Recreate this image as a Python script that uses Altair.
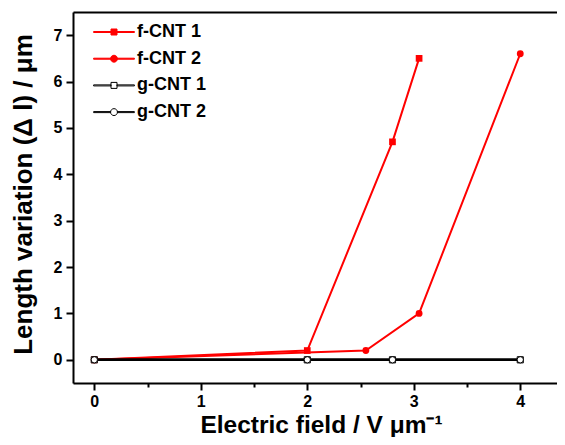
import altair as alt
import pandas as pd

# ---------------- data ----------------
series_names = ["f-CNT 1", "f-CNT 2", "g-CNT 1", "g-CNT 2"]
f1_x = [0, 2, 2.8, 3.05]
f1_y = [0, 0.2, 4.7, 6.5]
f2_x = [0, 2.55, 3.05, 4]
f2_y = [0, 0.2, 1.0, 6.6]
g1_x = [0, 2, 2.8, 4]
g1_y = [0, 0, 0, 0]
g2_x = [0, 2, 2.8, 4]
g2_y = [0, 0, 0, 0]
x_ticks = [0, 1, 2, 3, 4]
x_minor_ticks = [0.5, 1.5, 2.5, 3.5]
y_ticks = [0, 1, 2, 3, 4, 5, 6, 7]

# ---------------- styles ----------------
FONT = "Liberation Sans"
RED = "#ff0000"
BLACK = "#000000"
line_colors = [RED, RED, BLACK, BLACK]
line_widths = [2, 2, 2.5, 2.5]
marker_shapes = ["square", "circle", "square", "circle"]
marker_fill = [RED, RED, "white", "white"]
marker_stroke = [RED, RED, BLACK, BLACK]
marker_stroke_w = [0, 0, 1, 1]
marker_size = [45, 47, 38, 40]

# legend symbols: line stubs + marker (custom SVG paths, unit = sqrt(size)/2)
sq = "M-6.8,-0.17H-1V0.17H-6.8Z M1,-0.17H6.8V0.17H1Z M-1,-1H1V1H-1Z"
ci = ("M-6.8,-0.17H-1.15V0.17H-6.8Z M1.15,-0.17H6.8V0.17H1.15Z "
      "M1.15,0A1.15,1.15,0,1,1,-1.15,0A1.15,1.15,0,1,1,1.15,0Z")
legend_paths = [sq, ci, sq, ci]

rows = []
for name, xs, ys in zip(series_names, [f1_x, f2_x, g1_x, g2_x], [f1_y, f2_y, g1_y, g2_y]):
    for i, (xv, yv) in enumerate(zip(xs, ys)):
        rows.append({"series": name, "x": xv, "y": yv, "i": i})
df = pd.DataFrame(rows)

xscale = alt.Scale(domain=[-0.2, 4.345], nice=False, zero=False)
yscale = alt.Scale(domain=[-0.5, 7.5], nice=False, zero=False)

common = dict(domainColor=BLACK, domainWidth=2, tickColor=BLACK, tickWidth=2, grid=False,
              labelFont=FONT, labelFontWeight="bold", labelColor=BLACK,
              titleFont=FONT, titleFontWeight="bold", titleColor=BLACK)

x_main_axis = alt.Axis(values=x_ticks, format="d", labelFontSize=16, labelPadding=3, tickSize=7,
                       title="Electric field / V μm⁻¹", titleFontSize=24.5, titleX=248, titleY=49,
                       titleBaseline="alphabetic", titleAlign="center", **common)
x_top_axis = alt.Axis(orient="top", labels=False, ticks=False, domain=True, title=None,
                      domainColor=BLACK, domainWidth=2, grid=False)
x_minor_axis = alt.Axis(orient="bottom", values=x_minor_ticks, labels=False, domain=False,
                        tickSize=4, tickWidth=2, tickColor=BLACK, grid=False, title=None)
y_main_axis = alt.Axis(values=y_ticks, format="d", labelFontSize=16, labelPadding=4, tickSize=7,
                       title="Length variation (Δ l) / μm", titleFontSize=26, titleAngle=270,
                       titleX=-42, titleY=182, titleBaseline="alphabetic", titleAlign="center",
                       **common)

layers = []
x_axes = [x_main_axis, x_top_axis, x_minor_axis, None]
for k, name in enumerate(series_names):
    base = alt.Chart(df).transform_filter(alt.datum.series == name)
    line = base.mark_line(color=line_colors[k], strokeWidth=line_widths[k]).encode(
        x=alt.X("x:Q", scale=xscale, axis=x_axes[k]),
        y=alt.Y("y:Q", scale=yscale, axis=y_main_axis if k == 0 else None),
        order="i:Q",
    )
    pts = base.mark_point(shape=marker_shapes[k], filled=True, fill=marker_fill[k],
                          stroke=marker_stroke[k], strokeWidth=marker_stroke_w[k],
                          size=marker_size[k], opacity=1).encode(
        x=alt.X("x:Q", scale=xscale, axis=None),
        y=alt.Y("y:Q", scale=yscale, axis=None),
    )
    layers += [line, pts]

leg = alt.Legend(orient="none", legendX=32, legendY=11, title=None, labelFont=FONT,
                 labelFontSize=18, labelFontWeight="bold", labelColor=BLACK,
                 symbolSize=36, symbolStrokeWidth=1, rowPadding=8.7, labelOffset=14,
                 symbolOffset=0, padding=0, labelLimit=300)
legend_layer = alt.Chart(pd.DataFrame({"series": series_names})).transform_filter("false").mark_point(
    filled=True, opacity=1).encode(
    shape=alt.Shape("series:N", scale=alt.Scale(domain=series_names, range=legend_paths), legend=leg),
    fill=alt.Fill("series:N", scale=alt.Scale(domain=series_names, range=marker_fill), legend=leg),
    stroke=alt.Stroke("series:N", scale=alt.Scale(domain=series_names, range=marker_stroke), legend=leg),
)
layers.append(legend_layer)

chart = alt.layer(*layers).resolve_axis(x="independent", y="independent").properties(
    width=484, height=371,
    autosize=alt.AutoSizeParams(type="none"),
    padding={"left": 65, "top": 4, "right": 0, "bottom": 54},
).configure_view(stroke="transparent").configure(background="white")

chart.save("out.html", embed_options={"renderer": "svg", "actions": False})
